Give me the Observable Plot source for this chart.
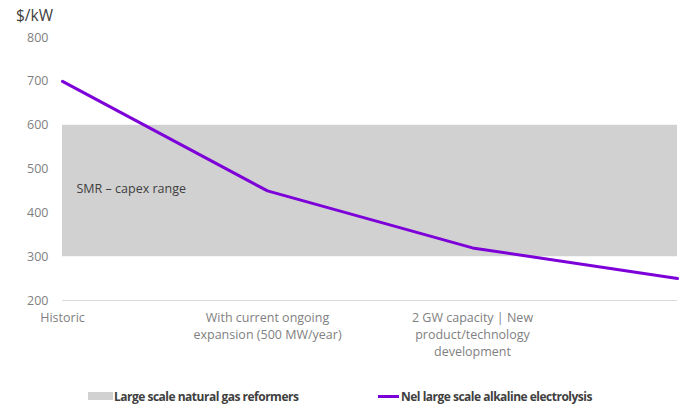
<!DOCTYPE html>
<html>
<head>
<meta charset="utf-8">
<script src="https://cdn.jsdelivr.net/npm/d3@7"></script>
<script src="https://cdn.jsdelivr.net/npm/@observablehq/plot@0.6"></script>
<style>
  html, body { margin: 0; padding: 0; background: #fff; }
  #wrap { position: relative; width: 679px; height: 405px; font-family: "Open Sans", sans-serif; }
  #unit { position: absolute; left: 16px; top: 4px; font-size: 15.5px; color: #404040; }
  #legend { position: absolute; left: 0; top: 387px; width: 679px; height: 18px; font-family: "Open Sans", sans-serif; font-weight: bold; font-size: 12px; color: #404040; letter-spacing: -0.5px; }
  .item { position: absolute; top: 0; display: flex; align-items: center; height: 18px; white-space: nowrap; }
  .sw-box { width: 25px; height: 8px; background: #d1d1d1; margin-right: 1px; }
  .sw-line { width: 21px; height: 3px; background: #7d00d8; margin-right: 2px; }
</style>
</head>
<body>
<div id="wrap">
  <div id="chart"></div>
  <div id="unit">$/kW</div>
  <div id="legend"></div>
</div>
<script>
const categories = ["Historic", "With current ongoing\nexpansion (500 MW/year)", "2 GW capacity | New\nproduct/technology\ndevelopment", "Future"];
const tickLabels = ["Historic", "With current ongoing\nexpansion (500 MW/year)", "2 GW capacity | New\nproduct/technology\ndevelopment", ""];
const electrolysisCapex = [700, 450, 320, 250];
const smrLow = [300, 300, 300, 300];
const smrHigh = [600, 600, 600, 600];
const yTicks = [200, 300, 400, 500, 600, 700, 800];
const seriesNames = ["Large scale natural gas reformers", "Nel large scale alkaline electrolysis"];
const bandLabel = "SMR \u2013 capex range";
const bandLabelY = 455;

const rows = categories.map((c, i) => ({cat: c, v: electrolysisCapex[i], lo: smrLow[i], hi: smrHigh[i]}));

const purple = "#7d00d8";
const plot = Plot.plot({
  width: 679,
  height: 380,
  marginTop: 37,
  marginBottom: 80,
  marginLeft: 62,
  marginRight: 2,
  style: {fontFamily: "Open Sans, sans-serif", fontSize: "12px", color: "#7f7f7f", background: "#fff"},
  x: {type: "point", domain: categories, padding: 0, label: null},
  y: {domain: [200, 800], label: null},
  marks: [
    Plot.areaY(rows, {x: "cat", y1: "lo", y2: "hi", fill: "#d1d1d1"}),
    Plot.ruleY([200], {stroke: "#d9d9d9", strokeWidth: 1}),
    Plot.text([bandLabel], {x: () => categories[0], y: () => bandLabelY, text: d => d, textAnchor: "start", dx: 14, fill: "#404040", fontSize: 12.5}),
    Plot.line(rows, {x: "cat", y: "v", stroke: purple, strokeWidth: 3}),
    Plot.axisY(yTicks, {tickSize: 0, tickPadding: 14, fill: "#7f7f7f", fontSize: 12.5, label: null}),
    Plot.axisX(categories, {tickSize: 0, tickPadding: 10, fill: "#7f7f7f", fontSize: 12.5, lineHeight: 1.33, label: null,
      tickFormat: d => tickLabels[categories.indexOf(d)]})
  ]
});
document.getElementById("chart").appendChild(plot);

const legend = document.getElementById("legend");
legend.innerHTML =
  `<div class="item" style="left:88px"><span class="sw-box"></span><span>${seriesNames[0]}</span></div>` +
  `<div class="item" style="left:378px"><span class="sw-line"></span><span>${seriesNames[1]}</span></div>`;
</script>
</body>
</html>
